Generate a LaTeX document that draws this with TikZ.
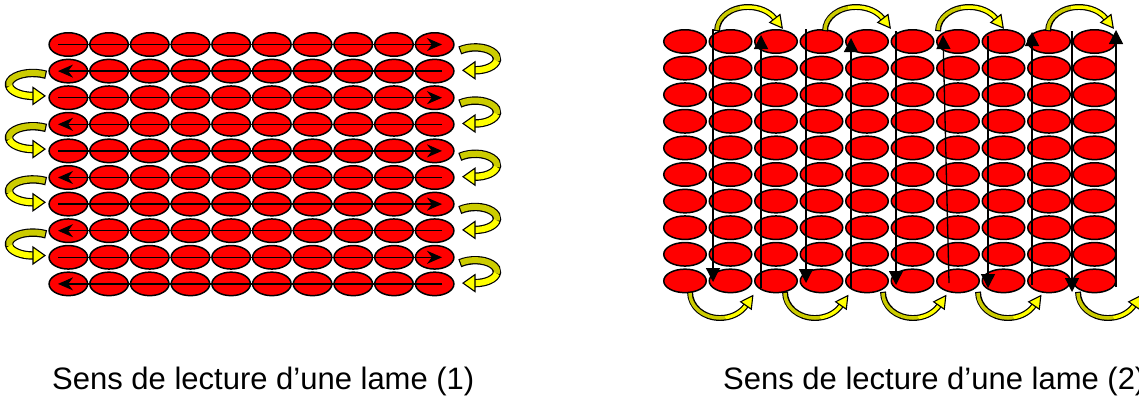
\documentclass[tikz,border=0pt]{standalone}
\usepackage{fontspec}
\setmainfont{Liberation Sans}
\usetikzlibrary{shapes.geometric,arrows.meta,calc}
\definecolor{ered}{RGB}{255,0,0}
\definecolor{ybright}{RGB}{255,255,0}
\definecolor{ydark}{RGB}{204,204,0}
\tikzset{
  cellL/.style={ellipse, draw=black, fill=ered, line width=1.5pt, minimum width=38.5pt, minimum height=23.5pt, inner sep=0pt, outer sep=0pt},
  cellR/.style={cellL, minimum width=42.5pt},
  rowline/.style={line width=1.3pt, -{Stealth[length=15pt,width=13pt]}},
  colline/.style={line width=1.3pt, -{Triangle[length=14pt,width=14pt]}},
  captext/.style={anchor=base west, inner sep=0pt, font=\fontsize{31}{37}\selectfont},
  yband/.style={line cap=butt},
  yhead/.style={fill=ybright, draw=black, line width=1.1pt, line join=miter}
}
% yellow curved arrow: cx cy rx ry start mid end
\newcommand\ycurve[7]{%
  \pgfmathsetmacro\ycsx{#1+#3*cos(#5)}%
  \pgfmathsetmacro\ycsy{#2+#4*sin(#5)}%
  \pgfmathsetmacro\ycmx{#1+#3*cos(#6)}%
  \pgfmathsetmacro\ycmy{#2+#4*sin(#6)}%
  \pgfmathsetmacro\ycex{#1+#3*cos(#7)}%
  \pgfmathsetmacro\ycey{#2+#4*sin(#7)}%
  \pgfmathsetmacro\ycsg{sign(#7-#5)}%
  \pgfmathsetmacro\ycdx{\ycsg*(-#3*sin(#7))}%
  \pgfmathsetmacro\ycdy{\ycsg*(#4*cos(#7))}%
  \pgfmathsetmacro\ycdn{sqrt(\ycdx*\ycdx+\ycdy*\ycdy)}%
  \pgfmathsetmacro\ycwo{\ywid+2.4}%
  \coordinate (ys) at (\ycsx,\ycsy);
  \coordinate (ym) at (\ycmx,\ycmy);
  \coordinate (yb) at (\ycex,\ycey);
  \coordinate (yt) at ({\ycex+\ylen*\ycdx/\ycdn},{\ycey+\ylen*\ycdy/\ycdn});
  \draw[yband, black, line width=\ycwo pt, shorten <=-1.2pt] (ys) arc[start angle=#5, end angle=#7, x radius=#3, y radius=#4];
  \draw[yband, ydark, line width=\ywid pt] (ys) arc[start angle=#5, end angle=#6, x radius=#3, y radius=#4];
  \draw[yband, ybright, line width=\ywid pt] (ym) arc[start angle=#6, end angle=#7, x radius=#3, y radius=#4];
  \filldraw[yhead] (yt) -- ($(yb)!\yhw pt!90:(yt)$) -- ($(yb)!\yhw pt!-90:(yt)$) -- cycle;
}
\begin{document}
\begin{tikzpicture}[x=1pt,y=-1pt]
\useasboundingbox (0,0) rectangle (1139,399);
% ---------- left grid ----------
\foreach \j in {0,...,9}{
  \foreach \i in {0,...,9}{
    \node[cellL] (L-\i-\j) at ({68.35+40.7*\i},{44.5+26.6*\j}) {};
  }
  \coordinate (la-\j) at (58,{44.5+26.6*\j});
  \coordinate (lb-\j) at (442,{44.5+26.6*\j});
}
\foreach \j in {0,2,4,6,8} \draw[rowline] (la-\j) -- (lb-\j);
\foreach \j in {1,3,5,7,9} \draw[rowline] (lb-\j) -- (la-\j);
% U-turn arrows, left grid
\def\ywid{6}\def\ylen{12}\def\yhw{8.5}
\foreach \j in {1,3,5,7}{
  \ycurve{33}{44.5+26.6*(\j+0.5)}{24}{11.5}{300}{170}{90}
}
\foreach \j in {0,2,4,6,8}{
  \ycurve{475}{45.5+26.6*(\j+0.5)}{22}{11.5}{230}{370}{450}
}
% ---------- right grid ----------
\foreach \j in {0,...,9}{
  \foreach \i in {0,...,9}{
    \node[cellR] (R-\i-\j) at ({685+45.5*\i},{41.5+26.6*\j}) {};
  }
}
\coordinate (d1a) at (713,29);  \coordinate (d1b) at (713,282);
\coordinate (u1a) at (761,288); \coordinate (u1b) at (761,35);
\coordinate (d2a) at (806,29);  \coordinate (d2b) at (806,283);
\coordinate (u2a) at (851,288); \coordinate (u2b) at (851,38);
\coordinate (d3a) at (896,31);  \coordinate (d3b) at (896,285);
\coordinate (u3a) at (949,283); \coordinate (u3b) at (943,35);
\coordinate (d4a) at (988,36);  \coordinate (d4b) at (988,288);
\coordinate (u4a) at (1032,285); \coordinate (u4b) at (1032,32);
\coordinate (d5a) at (1072,31); \coordinate (d5b) at (1072,292);
\coordinate (u5a) at (1116,287); \coordinate (u5b) at (1116,30);
\foreach \k in {1,...,5}{
  \draw[colline] (d\k a) -- (d\k b);
  \draw[colline] (u\k a) -- (u\k b);
}
% arcs above and below
\def\ywid{3.5}\def\ylen{12}\def\yhw{6.5}
\foreach \s in {717,825,938,1048}{
  \ycurve{\s+31}{30}{31}{23}{180}{255}{330}
}
\foreach \s in {690,785,883,978,1078}{
  \ycurve{\s+30}{293}{30}{25}{180}{80}{30}
}
% ---------- captions ----------
\node[captext] (cap1) at (52,389) {Sens de lecture d’une lame (1)};
\node[captext] (cap2) at (723,389) {Sens de lecture d’une lame (2)};
\end{tikzpicture}
\end{document}
